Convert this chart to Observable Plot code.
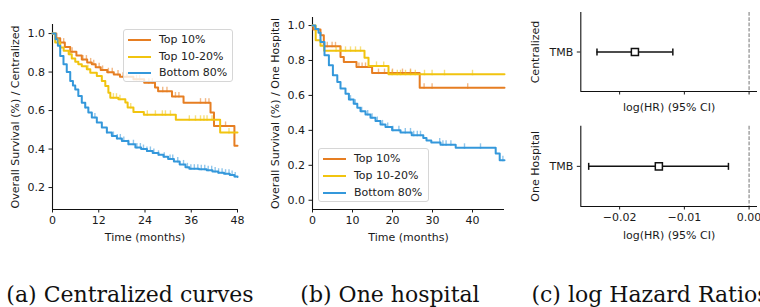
<!DOCTYPE html>
<html><head><meta charset="utf-8">
<script src="https://cdn.jsdelivr.net/npm/d3@7"></script>
<script src="https://cdn.jsdelivr.net/npm/@observablehq/plot@0.6"></script>
<style>
body{margin:0;background:#fff;}
#root{position:relative;width:760px;height:307px;overflow:hidden;background:#fff;font-family:"DejaVu Sans";}
.panel{position:absolute;}
.legend{position:absolute;background:rgba(255,255,255,0.8);border:1px solid #d6d6d6;border-radius:3px;box-sizing:border-box;font:11px "DejaVu Sans";color:#222;}
.legend .sw{position:absolute;height:2px;width:23px;}
.legend .lb{position:absolute;line-height:12px;white-space:nowrap;}
.caption{position:absolute;top:284px;width:260px;text-align:center;font:22px "DejaVu Serif";line-height:22px;color:#111;white-space:nowrap;}
</style></head><body><div id="root"></div>
<script>
// ---------- data ----------
const series = ["Top 10%", "Top 10-20%", "Bottom 80%"];
const seriesColors = ["#e67e22", "#f1c40f", "#3498db"];

// (a) Centralized
const aTop10Time = [0, 1.0, 2.0, 3.2, 4.6, 6.2, 7.6, 9.0, 10.2, 11.2, 12.5, 14.2, 15.9, 17.5, 21.0, 23.8, 26.6, 27.4, 31.0, 34.0, 41.0, 41.9, 47.2, 48];
const aTop10Surv = [1.0, 0.975, 0.953, 0.93, 0.905, 0.886, 0.865, 0.85, 0.84, 0.825, 0.811, 0.799, 0.787, 0.775, 0.762, 0.745, 0.72, 0.70, 0.673, 0.641, 0.59, 0.52, 0.417, 0.417];
const aTop10Cens = [2.9, 5.1, 7.9, 8.8, 9.9, 10.7, 12.1, 13.0, 14.5, 15.5, 17.0, 18.3, 19.3, 21.8, 22.6, 25.0, 25.9, 28.6, 29.7, 31.9, 32.8, 38.4, 39.7, 40.6, 44.9];
const aTop20Time = [0, 0.7, 2.0, 2.9, 4.2, 5.0, 5.9, 6.7, 7.6, 8.9, 9.8, 11.5, 12.8, 13.7, 14.5, 15.0, 17.1, 18.9, 19.5, 21.0, 23.7, 32.0, 43.5, 48];
const aTop20Surv = [1.0, 0.953, 0.927, 0.91, 0.893, 0.87, 0.853, 0.84, 0.83, 0.815, 0.797, 0.78, 0.754, 0.728, 0.693, 0.667, 0.659, 0.642, 0.616, 0.593, 0.578, 0.552, 0.486, 0.486];
const aTop20Cens = [1.5, 4.5, 9.2, 15.8, 16.6, 17.5, 20.3, 24.6, 26.7, 28.5, 29.3, 30.6, 35.5, 37.1, 38.4, 39.3, 40.1, 41.4, 45.8];
const aBottomTime = [0, 0.8, 1.4, 2.0, 2.85, 3.7, 4.6, 5.3, 5.9, 6.7, 7.6, 8.5, 9.3, 10.2, 11.5, 12.8, 14.1, 15.4, 16.7, 18.0, 19.7, 21.5, 23.0, 24.5, 26.0, 27.5, 28.8, 30.0, 31.5, 33.0, 34.5, 35.5, 38.0, 40.0, 41.5, 43.0, 44.5, 46.0, 47.2, 48];
const aBottomSurv = [1.0, 0.97, 0.936, 0.884, 0.84, 0.80, 0.754, 0.73, 0.71, 0.676, 0.64, 0.616, 0.59, 0.564, 0.538, 0.512, 0.486, 0.468, 0.455, 0.442, 0.425, 0.408, 0.40, 0.39, 0.38, 0.37, 0.36, 0.348, 0.335, 0.32, 0.305, 0.298, 0.295, 0.29, 0.283, 0.277, 0.272, 0.265, 0.258, 0.255];
const aBottomCens = [8.5, 11.0, 14.1, 15.8, 16.8, 17.6, 18.5, 19.7, 21.0, 21.9, 22.8, 23.6, 24.5, 25.4, 26.3, 27.5, 29.0, 30.5, 31.2, 32.5, 34.0, 35.0, 35.9, 36.8, 37.7, 38.6, 39.5, 40.4, 41.3, 42.2, 43.1, 44.0, 44.9, 45.8, 46.6, 47.4];
const aXTicks = [0, 12, 24, 36, 48];
const aYTicks = [0.2, 0.4, 0.6, 0.8, 1.0];

// (b) One hospital
const bTop10Time = [0, 0.2, 2.0, 2.83, 7.0, 7.83, 11.0, 14.9, 26.8, 48];
const bTop10Surv = [1.0, 0.977, 0.945, 0.881, 0.82, 0.792, 0.763, 0.728, 0.644, 0.644];
const bTop10Cens = [3.7, 4.9, 5.75, 11.6, 12.4, 13.25, 16.5, 18.0, 20.0, 22.5, 24.5, 27.9, 29.9, 38.8];
const bTop20Time = [0, 0.8, 2.0, 2.9, 13.0, 14.0, 19.0, 48];
const bTop20Surv = [1.0, 0.916, 0.885, 0.855, 0.816, 0.769, 0.721, 0.721];
const bTop20Cens = [5.9, 7.0, 8.25, 9.5, 10.75, 12.0, 16.0, 17.8, 19.9, 21.2, 22.0, 23.25, 24.5, 25.7, 28.0, 29.9, 33.0, 40.0];
const bBottomTime = [0, 0.7, 1.5, 2.0, 3.0, 4.1, 5.1, 6.2, 7.0, 8.25, 9.1, 10.3, 11.2, 12.0, 13.25, 14.5, 15.75, 17.0, 18.25, 19.9, 22.0, 24.8, 27.7, 28.5, 29.7, 32.0, 35.8, 45.8, 46.8, 48];
const bBottomSurv = [1.0, 0.98, 0.958, 0.906, 0.83, 0.772, 0.715, 0.677, 0.639, 0.61, 0.576, 0.553, 0.53, 0.51, 0.491, 0.472, 0.453, 0.434, 0.419, 0.40, 0.388, 0.372, 0.356, 0.342, 0.33, 0.318, 0.30, 0.268, 0.229, 0.229];
const bBottomCens = [9.5, 10.7, 12.3, 13.8, 14.9, 16.2, 17.5, 18.8, 20.1, 21.6, 23.2, 24.5, 25.3, 26.2, 27.0, 31.8, 32.6, 33.4, 34.6, 38.0, 42.0, 47.6];
const bXTicks = [0, 10, 20, 30, 40];
const bYTicks = [0, 0.2, 0.4, 0.6, 0.8, 1.0];

// (c) log hazard ratios
const hrGroups = ["Centralized", "One Hospital"];
const hrCovariate = ["TMB", "TMB"];
const hrCoef = [-0.01764, -0.01394];
const hrLower = [-0.0235, -0.02478];
const hrUpper = [-0.01178, -0.00319];
const hrTicks = [-0.02, -0.01, 0];

const xLabel = "Time (months)";
const hrLabel = "log(HR) (95% CI)";
const captions = ["(a) Centralized curves", "(b) One hospital", "(c) log Hazard Ratios"];

// ---------- helpers ----------
function survAt(times, surv, t) { let k = 0; for (let i = 0; i < times.length; i++) if (times[i] <= t) k = i; return surv[k]; }
function km(name, times, surv) { return times.map((t, i) => ({name, t, s: surv[i]})); }
function cens(name, times, surv, ct) { return ct.map(t => ({name, t, s: survAt(times, surv, t)})); }
const censorSym = {draw(ctx) { ctx.moveTo(0, 1); ctx.lineTo(0, -4.5); }};
const capSym = {draw(ctx) { ctx.moveTo(0, -3.5); ctx.lineTo(0, 3.5); }};
const baseStyle = {fontFamily: "DejaVu Sans", fontSize: "11px", color: "#1a1a1a", background: "transparent", overflow: "visible"};
const root = document.getElementById("root");
function place(node, left, top) { const d = document.createElement("div"); d.className = "panel"; d.style.left = left + "px"; d.style.top = top + "px"; d.appendChild(node); root.appendChild(d); }

function kmPanel(o) {
  const lines = [km(series[0], o.t10, o.s10), km(series[1], o.t20, o.s20), km(series[2], o.tb, o.sb)].flat();
  const marks = [cens(series[0], o.t10, o.s10, o.c10), cens(series[1], o.t20, o.s20, o.c20), cens(series[2], o.tb, o.sb, o.cb)].flat();
  return Plot.plot({
    width: 250, height: 250, marginLeft: 52, marginRight: o.mr, marginTop: o.mt, marginBottom: 41,
    style: baseStyle,
    x: {domain: [0, 48]}, y: {domain: o.yd},
    color: {domain: series, range: seriesColors},
    marks: [
      Plot.axisX({ticks: o.xt, tickSize: 3.5, tickPadding: 3.5, label: null, tickFormat: d => String(d)}),
      Plot.axisY({ticks: o.yt, tickSize: 3.5, tickPadding: 4, label: null, tickFormat: d => d.toFixed(1)}),
      Plot.ruleX([0], {stroke: "#111", strokeWidth: 1.1}),
      Plot.ruleY([o.yd[0]], {stroke: "#111", strokeWidth: 1.1}),
      Plot.line(lines, {x: "t", y: "s", z: "name", stroke: "name", curve: "step-after", strokeWidth: 2}),
      Plot.dot(marks, {x: "t", y: "s", stroke: "name", fill: "none", symbol: censorSym, r: 3, strokeOpacity: 0.55, strokeWidth: 1.4}),
      Plot.text([o.ylabel], {text: d => d, frameAnchor: "left", textAnchor: "middle", lineAnchor: "middle", dx: -37, rotate: -90}),
      Plot.text([xLabel], {text: d => d, frameAnchor: "bottom", textAnchor: "middle", lineAnchor: "middle", dy: 28})
    ]
  });
}

place(kmPanel({t10: aTop10Time, s10: aTop10Surv, c10: aTop10Cens, t20: aTop20Time, s20: aTop20Surv, c20: aTop20Cens,
  tb: aBottomTime, sb: aBottomSurv, cb: aBottomCens, xt: aXTicks, yt: aYTicks, yd: [0.086, 1.047], mr: 13, mt: 24,
  ylabel: "Overall Survival (%) / Centralized"}), 0, 0);
place(kmPanel({t10: bTop10Time, s10: bTop10Surv, c10: bTop10Cens, t20: bTop20Time, s20: bTop20Surv, c20: bTop20Cens,
  tb: bBottomTime, sb: bBottomSurv, cb: bBottomCens, xt: bXTicks, yt: bYTicks, yd: [-0.053, 1.046], mr: 6, mt: 17,
  ylabel: "Overall Survival (%) / One Hospital"}), 260, 0);

function legend(left, top, w, h, rows) {
  const L = document.createElement("div"); L.className = "legend";
  Object.assign(L.style, {left: left + "px", top: top + "px", width: w + "px", height: h + "px"});
  series.forEach((name, i) => {
    const sw = document.createElement("div"); sw.className = "sw";
    Object.assign(sw.style, {left: "4px", top: (rows[i] - 1) + "px", background: seriesColors[i]});
    const lb = document.createElement("div"); lb.className = "lb"; lb.textContent = name;
    Object.assign(lb.style, {left: "35px", top: (rows[i] - 6) + "px"});
    L.appendChild(sw); L.appendChild(lb);
  });
  root.appendChild(L);
}
legend(123, 29, 110, 53, [10, 27, 43]);
legend(318, 148, 111, 54, [10, 27, 44]);

function hrPanel(i, top, height, mt, mb, showLabels, labelDy) {
  const row = [{g: hrGroups[i], cov: hrCovariate[i], coef: hrCoef[i], lo: hrLower[i], hi: hrUpper[i], y: 0.5}];
  const caps = [{v: hrLower[i], y: 0.5}, {v: hrUpper[i], y: 0.5}];
  const xd = [-0.026, 0.0013];
  const svg = Plot.plot({
    width: 240, height, marginLeft: 60.3, marginRight: 3, marginTop: mt, marginBottom: mb,
    style: baseStyle,
    x: {domain: xd}, y: {domain: [0, 1]},
    marks: [
      Plot.ruleX([0], {stroke: "#8c8c8c", strokeWidth: 1.2, strokeDasharray: "3.7,1.6"}),
      Plot.axisX({ticks: hrTicks, tickSize: 3.5, tickPadding: 3.5, label: null, tickFormat: showLabels ? d3.format(".2f") : () => ""}),
      Plot.axisY({ticks: [0.5], tickSize: 3.5, tickPadding: 4, label: null, tickFormat: () => hrCovariate[i]}),
      Plot.ruleX([xd[0]], {stroke: "#111", strokeWidth: 1.1}),
      Plot.ruleY([0], {stroke: "#111", strokeWidth: 1.1}),
      Plot.ruleY(row, {y: "y", x1: "lo", x2: "hi", stroke: "#111", strokeWidth: 1.5}),
      Plot.dot(caps, {x: "v", y: "y", symbol: capSym, r: 3, stroke: "#111", fill: "none", strokeWidth: 1.5}),
      Plot.dot(row, {x: "coef", y: "y", symbol: "square", r: 4, fill: "white", stroke: "#111", strokeWidth: 1.5}),
      Plot.text([hrGroups[i]], {text: d => d, frameAnchor: "left", textAnchor: "middle", lineAnchor: "middle", dx: -45, rotate: -90}),
      Plot.text([hrLabel], {text: d => d, frameAnchor: "bottom", textAnchor: "middle", lineAnchor: "middle", dy: labelDy})
    ]
  });
  place(svg, 520, top);
}
hrPanel(0, 0, 120, 12, 29, false, 16);
hrPanel(1, 120, 130, 5.7, 44, true, 29);

captions.forEach((c, i) => {
  const d = document.createElement("div"); d.className = "caption"; d.textContent = c;
  d.style.left = (i * 260) + "px"; root.appendChild(d);
});
</script></body></html>
